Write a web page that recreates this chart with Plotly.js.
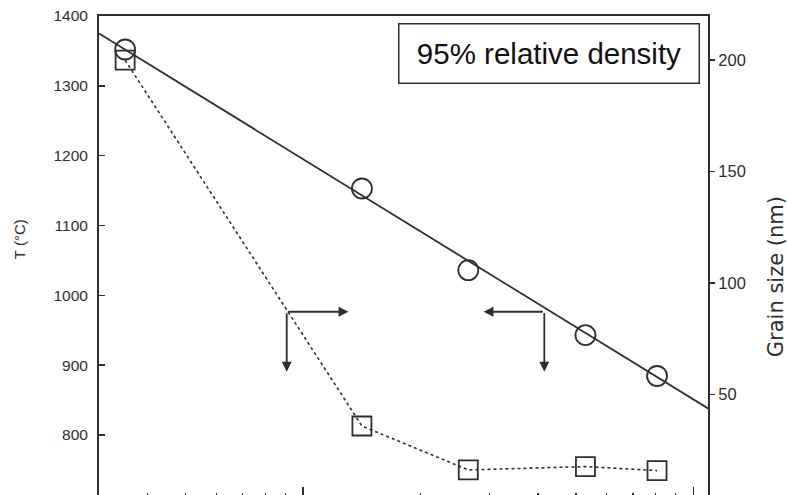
<!DOCTYPE html>
<html>
<head>
<meta charset="utf-8">
<script src="https://cdn.plot.ly/plotly-3.0.1.min.js"></script>
<style>
  html, body { margin: 0; padding: 0; background: #fff; overflow: hidden; }
  #chart { width: 787px; height: 500px; }
</style>
</head>
<body>
<div id="chart"></div>
<script>
// Sintering runs: x value (log scale), temperature for 95% density, grain size
const xVals   = [3.5, 14.15, 26.5, 52.9, 80.7];
const tempC   = [1352, 1153, 1036, 943, 884.5];
const grainNm = [199.9, 35.8, 16.1, 17.6, 15.8];

// Linear fit of T against log10(x): T = FIT_A - FIT_B * log10(x)
const FIT_A = 1539;
const FIT_B = 344;
const fitX = [3, 110];
const fitT = fitX.map(v => FIT_A - FIT_B * Math.log10(v));

// Axis ticks
const xMajorTicks = [10, 100];
const xMinorTicks = [4, 5, 6, 7, 8, 9, 20, 30, 40, 50, 60, 70, 80, 90];
const tTicks = [800, 900, 1000, 1100, 1200, 1300, 1400];
const gTicks = [50, 100, 150, 200];

// Axis ranges
const X_RANGE = [3, 109];
const T_RANGE = [711.2, 1400];
const G_RANGE = [3.95, 219.74];

// Arrow guides (corner, horizontal head, vertical head)
const guideLeft  = {x: 9.08, t: 976.5, hx: 13.07, vt: 890.6};
const guideRight = {x: 41.5, t: 976.5, hx: 29.0,  vt: 890.6};

const INK = '#2e2e2e';
const SANS = 'Liberation Sans, Arial, sans-serif';
const lg = Math.log10;

const traces = [
  {
    x: fitX, y: fitT, mode: 'lines', type: 'scatter',
    line: {color: INK, width: 1.8}, hoverinfo: 'skip', showlegend: false
  },
  {
    x: xVals, y: tempC, mode: 'markers', type: 'scatter',
    marker: {symbol: 'circle-open', size: 20, color: INK, line: {width: 1.8, color: INK}},
    showlegend: false, cliponaxis: false
  },
  {
    x: xVals, y: grainNm, yaxis: 'y2', mode: 'lines+markers', type: 'scatter',
    line: {color: INK, width: 1.6, dash: 'dot'},
    marker: {symbol: 'square-open', size: 19, color: INK, line: {width: 1.8, color: INK}},
    showlegend: false, cliponaxis: false
  }
];

function arrow(xHead, yHead, xTail, yTail) {
  return {
    xref: 'x', yref: 'y', axref: 'x', ayref: 'y',
    x: lg(xHead), y: yHead, ax: lg(xTail), ay: yTail,
    text: '', showarrow: true, arrowhead: 2, arrowsize: 1.1,
    arrowwidth: 1.8, arrowcolor: INK
  };
}

const annotations = [
  arrow(guideLeft.hx, guideLeft.t, guideLeft.x, guideLeft.t),
  arrow(guideLeft.x, guideLeft.vt, guideLeft.x, guideLeft.t),
  arrow(guideRight.hx, guideRight.t, guideRight.x, guideRight.t),
  arrow(guideRight.x, guideRight.vt, guideRight.x, guideRight.t),
  {
    xref: 'paper', yref: 'paper', x: 0.739, y: 0.922,
    xanchor: 'center', yanchor: 'middle',
    text: '95% relative density', showarrow: false,
    font: {family: SANS, size: 29.5, color: '#111'},
    width: 299, height: 58, borderpad: 0,
    bordercolor: INK, borderwidth: 1.5, bgcolor: '#fff'
  },
  // Axis titles
  {
    xref: 'paper', yref: 'paper', x: -0.1314, y: 0.536,
    xanchor: 'center', yanchor: 'middle', textangle: -90,
    text: 'T (°C)', showarrow: false,
    font: {family: SANS, size: 15, color: INK}
  },
  {
    xref: 'paper', yref: 'paper', x: 1.1117, y: 0.457,
    xanchor: 'center', yanchor: 'middle', textangle: -90,
    text: 'Grain size (nm)', showarrow: false,
    font: {family: 'DejaVu Sans, sans-serif', size: 21, color: INK}
  }
];

const layout = {
  width: 787, height: 500,
  margin: {l: 99, r: 79, t: 16, b: 3},
  paper_bgcolor: '#fff', plot_bgcolor: '#fff',
  showlegend: false,
  font: {family: SANS, color: INK},
  xaxis: {
    type: 'log', range: [lg(X_RANGE[0]), lg(X_RANGE[1])],
    showgrid: false, zeroline: false,
    showline: true, mirror: true, linecolor: INK, linewidth: 2,
    tickmode: 'array', tickvals: xMajorTicks, showticklabels: false,
    ticks: 'inside', ticklen: 10, tickwidth: 1.5, tickcolor: INK,
    minor: {tickmode: 'array', tickvals: xMinorTicks, ticks: 'inside',
            ticklen: 4, tickwidth: 1.2, tickcolor: INK, showgrid: false}
  },
  yaxis: {
    range: T_RANGE, showgrid: false, zeroline: false,
    showline: true, linecolor: INK, linewidth: 2,
    tickmode: 'array', tickvals: tTicks,
    ticks: 'inside', ticklen: 6, tickwidth: 1.5, tickcolor: INK,
    ticklabelstandoff: 6,
    tickfont: {family: SANS, size: 15.5, color: INK}
  },
  yaxis2: {
    overlaying: 'y', side: 'right',
    range: G_RANGE, showgrid: false, zeroline: false,
    showline: true, linecolor: INK, linewidth: 2,
    tickmode: 'array', tickvals: gTicks,
    ticks: 'outside', ticklen: 5, tickwidth: 1.5, tickcolor: INK,
    tickfont: {family: SANS, size: 16.5, color: INK}
  },
  annotations: annotations
};

Plotly.newPlot('chart', traces, layout, {staticPlot: true, displayModeBar: false});
</script>
</body>
</html>
